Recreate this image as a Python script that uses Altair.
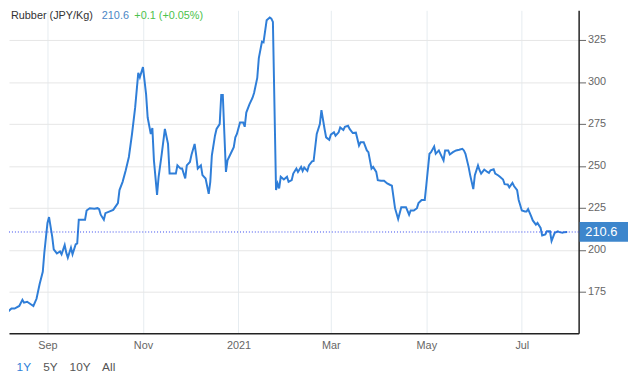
import altair as alt
import pandas as pd

dates = [
    "2020-08-02", "2020-08-06", "2020-08-09", "2020-08-11", "2020-08-14", "2020-08-16", "2020-08-17", "2020-08-19",
    "2020-08-23", "2020-08-25", "2020-08-27", "2020-08-29", "2020-08-30", "2020-09-01", "2020-09-02", "2020-09-04",
    "2020-09-05", "2020-09-07", "2020-09-09", "2020-09-10", "2020-09-12", "2020-09-13", "2020-09-14", "2020-09-16",
    "2020-09-17", "2020-09-19", "2020-09-20", "2020-09-21", "2020-09-22", "2020-09-25", "2020-09-26", "2020-09-28",
    "2020-10-01", "2020-10-03", "2020-10-04", "2020-10-05", "2020-10-07", "2020-10-08", "2020-10-10", "2020-10-13",
    "2020-10-16", "2020-10-17", "2020-10-19", "2020-10-21", "2020-10-23", "2020-10-25", "2020-10-27", "2020-10-29",
    "2020-10-30", "2020-11-01", "2020-11-03", "2020-11-04", "2020-11-06", "2020-11-07", "2020-11-08", "2020-11-10",
    "2020-11-11", "2020-11-13", "2020-11-15", "2020-11-17", "2020-11-18", "2020-11-20", "2020-11-22", "2020-11-23",
    "2020-11-25", "2020-11-26", "2020-11-28", "2020-11-29", "2020-12-01", "2020-12-02", "2020-12-04", "2020-12-05",
    "2020-12-06", "2020-12-08", "2020-12-09", "2020-12-11", "2020-12-13", "2020-12-14", "2020-12-15", "2020-12-17",
    "2020-12-18", "2020-12-20", "2020-12-21", "2020-12-22", "2020-12-23", "2020-12-24", "2020-12-25", "2020-12-27",
    "2020-12-29", "2020-12-30", "2020-12-31", "2021-01-02", "2021-01-04", "2021-01-05", "2021-01-06", "2021-01-08",
    "2021-01-10", "2021-01-11", "2021-01-13", "2021-01-14", "2021-01-16", "2021-01-17", "2021-01-19", "2021-01-21",
    "2021-01-22", "2021-01-23", "2021-01-25", "2021-01-26", "2021-01-27", "2021-01-28", "2021-01-30", "2021-02-01",
    "2021-02-02", "2021-02-04", "2021-02-05", "2021-02-07", "2021-02-08", "2021-02-10", "2021-02-11", "2021-02-12",
    "2021-02-14", "2021-02-15", "2021-02-17", "2021-02-18", "2021-02-20", "2021-02-22", "2021-02-23", "2021-02-25",
    "2021-02-26", "2021-02-28", "2021-03-01", "2021-03-03", "2021-03-04", "2021-03-06", "2021-03-07", "2021-03-09",
    "2021-03-10", "2021-03-12", "2021-03-13", "2021-03-15", "2021-03-17", "2021-03-19", "2021-03-20", "2021-03-22",
    "2021-03-24", "2021-03-25", "2021-03-27", "2021-03-28", "2021-03-30", "2021-03-31", "2021-04-02", "2021-04-04",
    "2021-04-06", "2021-04-08", "2021-04-09", "2021-04-11", "2021-04-13", "2021-04-15", "2021-04-17", "2021-04-18",
    "2021-04-20", "2021-04-21", "2021-04-23", "2021-04-25", "2021-04-26", "2021-04-28", "2021-04-30", "2021-05-01",
    "2021-05-03", "2021-05-04", "2021-05-06", "2021-05-07", "2021-05-09", "2021-05-10", "2021-05-12", "2021-05-13",
    "2021-05-15", "2021-05-16", "2021-05-18", "2021-05-20", "2021-05-22", "2021-05-24", "2021-05-25", "2021-05-26",
    "2021-05-28", "2021-05-29", "2021-05-31", "2021-06-01", "2021-06-03", "2021-06-04", "2021-06-05", "2021-06-07",
    "2021-06-09", "2021-06-10", "2021-06-11", "2021-06-13", "2021-06-14", "2021-06-16", "2021-06-17", "2021-06-19",
    "2021-06-20", "2021-06-22", "2021-06-23", "2021-06-25", "2021-06-26", "2021-06-28", "2021-06-29", "2021-07-01",
    "2021-07-03", "2021-07-04", "2021-07-05", "2021-07-07", "2021-07-08", "2021-07-10", "2021-07-11", "2021-07-13",
    "2021-07-14", "2021-07-16", "2021-07-17", "2021-07-19", "2021-07-20", "2021-07-22", "2021-07-24", "2021-07-25",
    "2021-07-27", "2021-07-28", "2021-07-30",
]
prices = [
    163.9, 162.5, 165.0, 165.0, 166.5, 170.2, 168.5, 169.0,
    166.5, 170.8, 179.6, 186.9, 198.3, 216.0, 219.5, 208.0,
    200.2, 197.8, 199.0, 197.3, 202.8, 198.3, 195.3, 201.2,
    197.3, 203.2, 203.8, 217.9, 217.9, 217.9, 223.4, 224.8,
    224.4, 224.8, 224.2, 220.9, 217.9, 221.8, 222.6, 223.8,
    227.8, 235.6, 240.5, 247.4, 255.3, 269.0, 284.7, 305.4,
    302.8, 308.9, 292.6, 278.8, 269.0, 272.5, 253.3, 232.7,
    243.5, 257.2, 272.0, 263.1, 245.4, 245.4, 245.4, 250.3,
    248.4, 248.4, 242.5, 250.3, 252.3, 256.6, 263.1, 256.2,
    248.4, 250.3, 244.5, 242.5, 233.3, 240.5, 256.2, 268.0,
    272.0, 274.9, 292.2, 292.2, 269.0, 246.4, 253.3, 257.2,
    261.2, 267.0, 269.0, 275.9, 275.9, 273.3, 281.8, 286.7,
    290.6, 293.6, 302.4, 314.2, 324.0, 323.6, 336.8, 338.4,
    337.8, 335.8, 235.6, 239.5, 236.6, 243.5, 241.9, 243.5,
    240.5, 241.5, 245.4, 248.4, 246.4, 249.4, 247.0, 249.0,
    247.0, 250.3, 252.7, 252.9, 269.0, 274.9, 283.2, 272.0,
    267.0, 265.5, 268.6, 270.0, 268.0, 270.0, 272.9, 271.4,
    273.3, 273.9, 272.0, 269.6, 269.8, 262.1, 264.1, 264.1,
    259.2, 258.2, 248.4, 249.4, 246.4, 241.5, 241.1, 241.1,
    239.5, 238.6, 238.2, 224.8, 218.3, 225.4, 225.4, 225.4,
    220.9, 223.4, 223.4, 224.8, 227.8, 229.7, 229.7, 238.6,
    257.2, 258.2, 261.5, 257.2, 259.2, 257.2, 253.3, 259.2,
    259.2, 256.8, 258.2, 259.2, 259.6, 260.2, 259.2, 257.2,
    249.4, 244.5, 236.2, 244.5, 250.3, 247.4, 245.4, 247.8,
    246.4, 245.8, 247.4, 248.0, 245.4, 244.3, 243.5, 241.9,
    239.1, 238.9, 237.2, 239.9, 238.0, 235.6, 229.7, 223.4,
    222.8, 222.8, 224.2, 219.9, 217.5, 215.0, 216.0, 213.0,
    208.5, 209.1, 211.0, 211.0, 205.2, 210.1, 211.0, 210.5,
    210.1, 210.5, 210.6,
]

last_price = 210.6
title_text = "Rubber (JPY/Kg)"
change_text = "+0.1 (+0.05%)"
range_buttons = ["1Y", "5Y", "10Y", "All"]
y_ticks = [175, 200, 225, 250, 275, 300, 325]
x_tick_dates = [(2020, 9), (2020, 11), (2021, 1), (2021, 3), (2021, 5), (2021, 7)]

df = pd.DataFrame({"date": dates, "price": prices})
last_df = pd.DataFrame({"price": [last_price], "label": [f"{last_price:.1f}"]})

FONT = "Liberation Sans"
BLUE = "#2f7ed8"

x_scale = alt.Scale(domain=["2020-08-07T10:00:00", "2021-08-06T07:00:00"])
y_scale = alt.Scale(domain=[150.3, 342.7], nice=False, zero=False)

x_axis = alt.Axis(
    values=[alt.DateTime(year=y, month=m, date=1) for y, m in x_tick_dates],
    labelExpr="month(datum.value) == 0 ? timeFormat(datum.value, '%Y') : timeFormat(datum.value, '%b')",
    title=None, tickSize=0, labelPadding=7, labelFontSize=11, labelColor="#666666",
    labelFont=FONT, domainColor="#222222", gridColor="#e6ecf0", labelFlush=False,
)
y_axis = alt.Axis(
    orient="right", values=y_ticks, title=None, tickSize=7, tickColor="#666666",
    labelPadding=2, labelFontSize=11, labelColor="#666666", labelFont=FONT,
    domainColor="#222222", gridColor="#e6e6e6",
)

line = alt.Chart(df).mark_line(color=BLUE, strokeWidth=2, clip=True).encode(
    x=alt.X("date:T", scale=x_scale, axis=x_axis),
    y=alt.Y("price:Q", scale=y_scale, axis=y_axis),
)

ref_rule = alt.Chart(last_df).mark_rule(color="#3344ee", strokeDash=[1, 2], strokeWidth=1).encode(
    y=alt.Y("price:Q", scale=y_scale),
)

label_box = alt.Chart(last_df).mark_rect(color="#3d86cc", height=20).encode(
    x=alt.value(578), x2=alt.value(627), y=alt.Y("price:Q", scale=y_scale),
)
label_text = alt.Chart(last_df).mark_text(
    color="white", fontSize=13, font=FONT, align="center", baseline="middle"
).encode(
    x=alt.value(600), y=alt.Y("price:Q", scale=y_scale), text="label:N",
)

title_df = pd.DataFrame({
    "t": [title_text, f"{last_price:.1f}", change_text],
    "c": ["#333333", "#4a86c5", "#4cc24c"],
    "px": [2, 94, 127],
})
titles = alt.Chart(title_df).mark_text(
    font=FONT, fontSize=11, align="left", baseline="middle"
).encode(
    x=alt.X("px:Q", scale=None), y=alt.value(6), text="t:N",
    color=alt.Color("c:N", scale=None),
)

btn_df = pd.DataFrame({
    "t": range_buttons,
    "c": [BLUE, "#555555", "#555555", "#555555"],
    "px": [15, 42, 72, 101],
})
buttons = alt.Chart(btn_df).mark_text(
    font=FONT, fontSize=12, align="center", baseline="middle"
).encode(
    x=alt.X("px:Q", scale=None), y=alt.value(361), text="t:N",
    color=alt.Color("c:N", scale=None),
)

chart = alt.layer(line, ref_rule, label_box, label_text, titles, buttons).properties(
    width=577, height=327, padding=0,
).resolve_scale(x="independent").configure_view(stroke=None).configure_axis(
    domainWidth=1.5
)

chart.save("out.html", embed_options={"renderer": "svg", "actions": False})
